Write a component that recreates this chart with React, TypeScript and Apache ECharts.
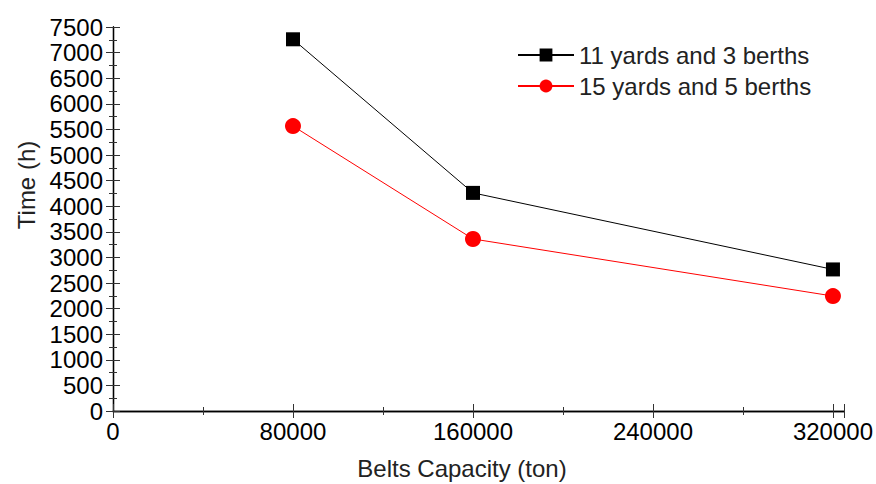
import React, { useEffect, useRef } from "react";
import * as echarts from "echarts";

const capacities = [80000, 160000, 320000];
const series11y3b = [7260, 4260, 2765];
const series15y5b = [5565, 3360, 2245];
const seriesNames = ["11 yards and 3 berths", "15 yards and 5 berths"];
const xTitle = "Belts Capacity (ton)";
const yTitle = "Time (h)";

export default function App() {
  const ref = useRef<HTMLDivElement>(null);
  useEffect(() => {
    if (!ref.current) return;
    const chart = echarts.init(ref.current, undefined, { renderer: "svg" });
    const font = "Liberation Sans, Arial, sans-serif";
    const fs = 24;
    const axisCommon = {
      axisLine: { show: true, lineStyle: { color: "#000", width: 1.3 } },
      axisTick: { show: true, inside: true, length: 7, lineStyle: { color: "#333", width: 1 } },
      minorTick: { show: true, splitNumber: 2, length: 4, lineStyle: { color: "#333", width: 1 } },
      splitLine: { show: false },
    };
    chart.setOption({
      animation: false,
      backgroundColor: "#fff",
      grid: { left: 113, right: 32, top: 27, bottom: 73 },
      legend: {
        orient: "vertical",
        left: 512,
        top: 38,
        itemWidth: 56,
        itemHeight: 16,
        itemGap: 7,
        textStyle: { fontSize: fs, fontFamily: font, color: "#222" },
        data: seriesNames,
      },
      graphic: [
        {
          type: "text",
          x: 462,
          y: 468,
          style: {
            text: xTitle,
            fontSize: fs,
            fontFamily: font,
            fill: "#222",
            align: "center",
            verticalAlign: "middle",
          },
        },
        {
          type: "text",
          x: 26,
          y: 185,
          rotation: Math.PI / 2,
          style: {
            text: yTitle,
            fontSize: fs,
            fontFamily: font,
            fill: "#222",
            align: "center",
            verticalAlign: "middle",
          },
        },
      ],
      xAxis: [
        {
          type: "value",
          min: 0,
          max: 324900,
          interval: 80000,
          ...axisCommon,
          axisLabel: {
            fontSize: fs,
            fontFamily: font,
            color: "#000",
            margin: 8,
            showMaxLabel: false,
            formatter: (v: number) => (v % 80000 === 0 ? String(v) : ""),
          },
        },
        {
          type: "value",
          position: "top",
          min: 0,
          max: 324900,
          interval: 80000,
          ...axisCommon,
          axisLabel: { show: false },
        },
      ],
      yAxis: [
        {
          type: "value",
          min: 0,
          max: 7500,
          interval: 500,
          ...axisCommon,
          axisLabel: {
            fontSize: fs,
            fontFamily: font,
            color: "#000",
            margin: 10,
            formatter: (v: number) => String(v),
          },
        },
        {
          type: "value",
          position: "right",
          min: 0,
          max: 7500,
          interval: 500,
          ...axisCommon,
          axisLabel: { show: false },
        },
      ],
      series: [
        {
          name: seriesNames[0],
          type: "line",
          data: capacities.map((c, i) => [c, series11y3b[i]]),
          symbol: "rect",
          symbolSize: 14,
          lineStyle: { color: "#000", width: 1 },
          itemStyle: { color: "#000" },
        },
        {
          name: seriesNames[1],
          type: "line",
          data: capacities.map((c, i) => [c, series15y5b[i]]),
          symbol: "circle",
          symbolSize: 16,
          lineStyle: { color: "#ff0000", width: 1 },
          itemStyle: { color: "#ff0000" },
        },
      ],
    });
    return () => chart.dispose();
  }, []);
  return (
    <div
      ref={ref}
      style={{ position: "absolute", left: 0, top: 0, width: 876, height: 484 }}
    />
  );
}
